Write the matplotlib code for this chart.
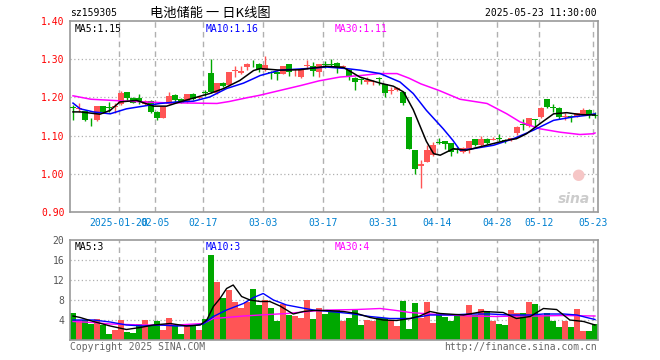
import matplotlib
matplotlib.use("Agg")
import matplotlib.pyplot as plt
import numpy as np

# daily candles, index 0 = 2025-01-08 ... index 87 = 2025-05-23
opens = [1.173, 1.169, 1.164, 1.139, 1.140, 1.177, 1.173, 1.175, 1.182, 1.213,
         1.199, 1.199, 1.183, 1.190, 1.163, 1.147, 1.183, 1.207, 1.196, 1.188,
         1.208, 1.197, 1.213, 1.264, 1.211, 1.237, 1.231, 1.270, 1.263, 1.279,
         1.293, 1.288, 1.272, 1.265, 1.266, 1.262, 1.286, 1.271, 1.253, 1.281,
         1.281, 1.266, 1.287, 1.287, 1.290, 1.280, 1.272, 1.251, 1.247, 1.240,
         1.239, 1.250, 1.234, 1.217, 1.218, 1.214, 1.149, 1.062, 1.021, 1.031,
         1.049, 1.083, 1.085, 1.081, 1.064, 1.057, 1.062, 1.090, 1.075, 1.092,
         1.089, 1.094, 1.089, 1.088, 1.107, 1.130, 1.124, 1.143, 1.149, 1.195,
         1.174, 1.173, 1.148, 1.150, 1.149, 1.157, 1.168, 1.154]
highs = [1.179, 1.185, 1.165, 1.147, 1.178, 1.178, 1.187, 1.185, 1.217, 1.214,
         1.200, 1.210, 1.193, 1.192, 1.164, 1.176, 1.214, 1.208, 1.197, 1.209,
         1.212, 1.204, 1.218, 1.301, 1.238, 1.240, 1.267, 1.281, 1.283, 1.290,
         1.297, 1.289, 1.307, 1.270, 1.268, 1.283, 1.287, 1.275, 1.276, 1.298,
         1.291, 1.288, 1.295, 1.301, 1.292, 1.285, 1.273, 1.252, 1.251, 1.253,
         1.246, 1.253, 1.235, 1.227, 1.226, 1.215, 1.150, 1.062, 1.036, 1.075,
         1.083, 1.095, 1.086, 1.082, 1.070, 1.070, 1.087, 1.092, 1.098, 1.093,
         1.096, 1.105, 1.092, 1.095, 1.124, 1.144, 1.147, 1.143, 1.175, 1.196,
         1.182, 1.174, 1.159, 1.153, 1.160, 1.173, 1.169, 1.162]
lows = [1.142, 1.161, 1.138, 1.125, 1.139, 1.160, 1.161, 1.159, 1.180, 1.192,
        1.184, 1.182, 1.180, 1.160, 1.142, 1.146, 1.182, 1.184, 1.184, 1.186,
        1.194, 1.195, 1.203, 1.211, 1.209, 1.226, 1.230, 1.254, 1.262, 1.272,
        1.279, 1.265, 1.270, 1.249, 1.246, 1.260, 1.255, 1.255, 1.251, 1.275,
        1.255, 1.253, 1.277, 1.280, 1.264, 1.278, 1.246, 1.218, 1.236, 1.234,
        1.231, 1.231, 1.201, 1.208, 1.216, 1.181, 1.065, 0.999, 0.963, 1.030,
        1.048, 1.079, 1.066, 1.046, 1.055, 1.055, 1.055, 1.074, 1.074, 1.078,
        1.088, 1.086, 1.082, 1.087, 1.101, 1.116, 1.123, 1.124, 1.147, 1.173,
        1.162, 1.144, 1.142, 1.136, 1.148, 1.156, 1.147, 1.147]
closes = [1.171, 1.171, 1.140, 1.137, 1.177, 1.162, 1.171, 1.177, 1.211, 1.199,
          1.185, 1.187, 1.190, 1.162, 1.147, 1.175, 1.203, 1.192, 1.185, 1.208,
          1.196, 1.202, 1.211, 1.214, 1.237, 1.229, 1.266, 1.272, 1.269, 1.288,
          1.291, 1.273, 1.284, 1.263, 1.261, 1.281, 1.266, 1.273, 1.275, 1.283,
          1.268, 1.286, 1.285, 1.285, 1.279, 1.283, 1.255, 1.240, 1.245, 1.246,
          1.241, 1.248, 1.211, 1.219, 1.224, 1.185, 1.066, 1.014, 1.027, 1.062,
          1.075, 1.081, 1.079, 1.057, 1.062, 1.068, 1.086, 1.075, 1.090, 1.081,
          1.091, 1.092, 1.087, 1.094, 1.123, 1.128, 1.146, 1.141, 1.173, 1.175,
          1.172, 1.149, 1.150, 1.148, 1.159, 1.166, 1.153, 1.152]
volumes = [5.5, 4.0, 4.0, 3.2, 4.3, 3.0, 1.3, 2.1, 4.1, 1.6,
           1.5, 3.3, 4.0, 3.0, 3.8, 2.1, 4.4, 3.0, 1.2, 2.8,
           2.8, 2.1, 4.2, 17.0, 11.6, 8.5, 10.0, 7.6, 6.4, 7.6,
           10.2, 7.0, 8.1, 6.4, 3.8, 7.2, 5.0, 4.9, 4.4, 8.0,
           4.2, 6.4, 5.2, 6.0, 6.1, 3.9, 4.5, 6.1, 3.0, 4.0,
           3.8, 4.5, 4.5, 4.0, 2.8, 7.8, 2.3, 7.4, 4.5, 7.7,
           3.5, 5.5, 4.7, 3.9, 5.2, 5.2, 7.0, 5.0, 6.2, 5.8,
           3.9, 3.2, 3.0, 6.0, 5.5, 5.5, 7.6, 7.2, 5.0, 5.5,
           3.9, 2.6, 3.9, 2.6, 6.2, 1.9, 1.9, 3.2]

# moving averages (candle index, value)
ma5_idx = [0, 1.2, 4.5, 6.2, 7.8, 10.6, 13.4, 15.6, 17.8, 21.2, 22.8, 25.1, 27.8, 30.1,
           31.2, 34.5, 37.8, 42.3, 45.1, 47.8, 51.2, 53.4, 55.1, 56.7, 58.9, 60.1, 61.2,
           63.4, 65.6, 68.9, 72.3, 73.9, 75.6, 77.8, 80.1, 82.3, 84.5, 87.0]
ma5_val = [1.162, 1.162, 1.156, 1.166, 1.188, 1.192, 1.177, 1.177, 1.188, 1.203, 1.210,
           1.223, 1.244, 1.270, 1.275, 1.271, 1.272, 1.281, 1.278, 1.253, 1.237, 1.229,
           1.214, 1.168, 1.085, 1.053, 1.049, 1.066, 1.062, 1.075, 1.088, 1.092, 1.105,
           1.131, 1.157, 1.160, 1.155, 1.154]
ma10_idx = [0, 1.2, 3.4, 6.2, 8.9, 11.7, 14.5, 17.3, 20.1, 22.8, 25.6, 28.4, 30.1, 31.2,
            34.5, 38.9, 42.3, 45.6, 47.8, 51.2, 54.5, 56.7, 58.9, 61.7, 63.3, 64.5, 66.7,
            70.1, 73.4, 76.7, 80.1, 83.4, 85.6, 87.0]
ma10_val = [1.185, 1.170, 1.162, 1.157, 1.170, 1.177, 1.184, 1.188, 1.190, 1.201, 1.223,
            1.237, 1.249, 1.257, 1.271, 1.275, 1.279, 1.275, 1.271, 1.262, 1.240, 1.210,
            1.166, 1.118, 1.088, 1.062, 1.066, 1.075, 1.092, 1.114, 1.140, 1.149, 1.153,
            1.157]
ma30_idx = [0, 3, 9, 15, 20, 24, 26, 29, 31, 34.5, 38, 41, 44.5, 48, 51, 54, 56, 58,
            61, 64.5, 69, 72.3, 74.5, 77.8, 81.2, 84.5, 86.7, 87.0]
ma30_val = [1.204, 1.195, 1.190, 1.186, 1.185, 1.184, 1.189, 1.199, 1.205, 1.218, 1.231,
            1.243, 1.253, 1.257, 1.262, 1.262, 1.250, 1.235, 1.218, 1.195, 1.184, 1.157,
            1.136, 1.118, 1.109, 1.103, 1.105, 1.107]

vma5_idx = [0, 1.2, 3.4, 6.2, 8.9, 11.2, 13.4, 16.2, 18.9, 21.2, 22.3, 23.4, 24.5, 25.6,
            26.7, 28.1, 29.5, 31.2, 32.8, 34.5, 36.7, 38.4, 40.1, 42.3, 45.1, 47.3, 49.5,
            51.7, 53.9, 56.2, 57.8, 59.5, 61.2, 65.1, 68.4, 71.7, 73.9, 76.2, 78.4, 80.6,
            82.8, 85.1, 87.0]
vma5_val = [4.8, 4.5, 3.7, 2.8, 2.1, 2.5, 3.0, 3.3, 2.8, 3.0, 4.0, 6.7, 8.3, 10.3,
            11.0, 8.7, 8.0, 7.7, 7.7, 6.8, 5.2, 5.7, 5.9, 5.9, 5.7, 5.3, 4.5,
            4.0, 3.9, 4.3, 4.8, 5.7, 5.3, 5.0, 5.7, 5.5, 4.3, 4.7, 6.3, 6.1,
            4.0, 3.7, 3.0]
vma10_idx = [0, 3.4, 6.2, 8.9, 11.7, 14.5, 17.3, 20.1, 21.7, 23.4, 25.6, 28.4, 30.1, 31.7,
             33.4, 35.6, 37.8, 40.1, 42.8, 46.2, 49.5, 52.8, 56.2, 59.5, 62.8, 66.2, 69.5,
             72.8, 76.2, 78.4, 81.8, 84.0, 85.6, 87.0]
vma10_val = [4.0, 4.0, 3.6, 3.0, 2.8, 3.0, 2.8, 2.9, 3.2, 4.7, 6.0, 7.3, 8.5, 9.3,
             8.0, 7.0, 6.5, 6.0, 5.7, 5.3, 4.7, 4.3, 4.3, 5.0, 5.0, 5.2, 5.2,
             5.0, 5.0, 5.2, 5.2, 5.0, 4.5, 4.1]
vma30_idx = [0, 3.4, 6.2, 11.7, 17.3, 21.7, 23.4, 25.6, 28.4, 31.2, 35.6, 40.1, 42.8,
             47.3, 51.2, 53.9, 56.2, 59.5, 62.8, 66.2, 70.6, 73.9, 77.3, 81.8, 87.0]
vma30_val = [3.7, 3.5, 3.2, 3.0, 3.0, 3.3, 4.3, 4.5, 4.8, 5.0, 5.3, 5.8, 6.0,
             6.1, 6.3, 5.9, 5.5, 5.2, 5.0, 4.8, 4.7, 4.8, 4.8, 4.9, 4.8]

date_idx = [8, 14, 22, 32, 42, 52, 61, 71, 78, 87]
date_labels = ["2025-01-20", "02-05", "02-17", "03-03", "03-17", "03-31",
               "04-14", "04-28", "05-12", "05-23"]
price_ticks = [0.90, 1.00, 1.10, 1.20, 1.30, 1.40]
vol_ticks = [4, 8, 12, 16, 20]

RED = "#ff5555"
GREEN = "#00a800"
FRAME = "#999999"
GRID = "#b0b0b0"
MONO = "DejaVu Sans Mono"

fig = plt.figure(figsize=(6.6, 3.6), dpi=100)
ax = fig.add_axes([70 / 660, 1 - 212.3 / 360, 528 / 660, 191.6 / 360])
vax = fig.add_axes([70 / 660, 20 / 360, 528 / 660, 100 / 360])

n = len(opens)
x = np.arange(n)
o = np.array(opens)
c = np.array(closes)
up = c > o
colors = np.where(up, RED, GREEN)

for a in (ax, vax):
    a.set_xlim(-0.5, n - 0.5)
    for s in a.spines.values():
        s.set_color(FRAME)
        s.set_linewidth(1.2)
    for d in date_idx:
        a.axvline(d - 0.4, color=GRID, lw=1, ls=(0, (4, 3)), zorder=0)

# price panel
ax.set_ylim(0.90, 1.40)
for p in price_ticks[1:-1]:
    ax.axhline(p, color=GRID, lw=0.9, ls=(0, (1, 2)), zorder=0)
ax.vlines(x, lows, highs, colors=colors, lw=1, zorder=2)
body_low = np.minimum(o, c)
body_h = np.maximum(np.abs(c - o), 0.0025)
ax.bar(x, body_h, bottom=body_low, width=0.85, color=colors, zorder=3)
ax.plot(ma30_idx, ma30_val, color="#ff00ff", lw=1.1, zorder=4)
ax.plot(ma10_idx, ma10_val, color="#0000ff", lw=1.1, zorder=4)
ax.plot(ma5_idx, ma5_val, color="black", lw=1.1, zorder=5)

ax.set_yticks(price_ticks)
ax.set_yticklabels([f"{p:.2f}" for p in price_ticks], color="#ff0000",
                   fontfamily=MONO, fontsize=7)
ax.set_xticks([d - 0.4 for d in date_idx])
ax.set_xticklabels(date_labels, color="#0080d0", fontfamily=MONO, fontsize=7)
ax.tick_params(length=0, pad=4)

ax.text(0.008, 0.985, "MA5:1.15", transform=ax.transAxes, color="black",
        fontfamily=MONO, fontsize=7, va="top")
ax.text(0.256, 0.985, "MA10:1.16", transform=ax.transAxes, color="#0000ff",
        fontfamily=MONO, fontsize=7, va="top")
ax.text(0.502, 0.985, "MA30:1.11", transform=ax.transAxes, color="#ff00ff",
        fontfamily=MONO, fontsize=7, va="top")
ax.text(0.985, 0.035, "sina", transform=ax.transAxes, color="#cccccc",
        fontsize=10, fontstyle="italic", fontweight="bold", ha="right", va="bottom")
ax.text(0.975, 0.16, "●", transform=ax.transAxes, color="#f6c6c6",
        fontsize=11, ha="right", va="bottom")

# volume panel
vax.set_ylim(0, 20)
for v in vol_ticks[:-1]:
    vax.axhline(v, color=GRID, lw=0.9, ls=(0, (1, 2)), zorder=0)
vax.bar(x, volumes, width=0.85, color=colors, zorder=2)
vax.plot(vma30_idx, vma30_val, color="#ff00ff", lw=1.0, zorder=4)
vax.plot(vma10_idx, vma10_val, color="#0000ff", lw=1.0, zorder=4)
vax.plot(vma5_idx, vma5_val, color="black", lw=1.0, zorder=5)
vax.set_xticks([])
vax.set_yticks(vol_ticks)
vax.set_yticklabels([str(v) for v in vol_ticks], color="#555555",
                    fontfamily=MONO, fontsize=7)
vax.tick_params(length=0, pad=4)
vax.text(0.008, 0.985, "MA5:3", transform=vax.transAxes, color="black",
         fontfamily=MONO, fontsize=7, va="top")
vax.text(0.256, 0.985, "MA10:3", transform=vax.transAxes, color="#0000ff",
         fontfamily=MONO, fontsize=7, va="top")
vax.text(0.502, 0.985, "MA30:4", transform=vax.transAxes, color="#ff00ff",
         fontfamily=MONO, fontsize=7, va="top")

# header and footer
fig.text(70 / 660, 1 - 13 / 360, "sz159305", color="black", fontfamily=MONO,
         fontsize=7, va="center")
fig.text(150 / 660, 1 - 13 / 360, "电池储能 一 日K线图", color="black",
         fontfamily=["Noto Sans CJK SC", "DejaVu Sans"], fontsize=9.5, va="center")
fig.text(597 / 660, 1 - 13 / 360, "2025-05-23 11:30:00", color="black",
         fontfamily=MONO, fontsize=7, ha="right", va="center")
fig.text(70 / 660, 1 - 347 / 360, "Copyright 2025 SINA.COM", color="#666666",
         fontfamily=MONO, fontsize=7, va="center")
fig.text(597 / 660, 1 - 347 / 360, "http://finance.sina.com.cn", color="#666666",
         fontfamily=MONO, fontsize=7, ha="right", va="center")

fig.savefig("out.png", dpi=100)
